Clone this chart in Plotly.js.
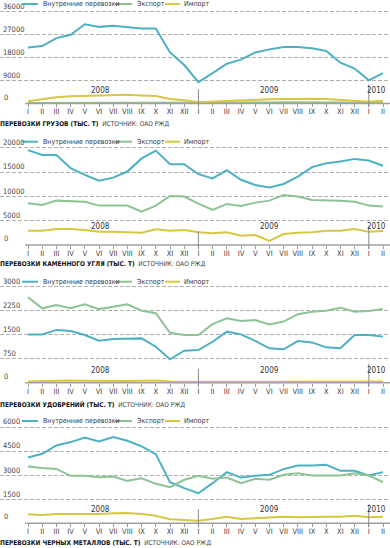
<!DOCTYPE html>
<html><head><meta charset="utf-8">
<script src="https://cdn.plot.ly/plotly-3.0.1.min.js"></script>
<style>html,body{margin:0;padding:0;background:#fff}#chart{width:390px;height:548px}</style>
</head><body><div id="chart"></div>
<script>
// ---- categories ----
const months = ['2008-01','2008-02','2008-03','2008-04','2008-05','2008-06','2008-07','2008-08','2008-09','2008-10','2008-11','2008-12',
                '2009-01','2009-02','2009-03','2009-04','2009-05','2009-06','2009-07','2009-08','2009-09','2009-10','2009-11','2009-12',
                '2010-01','2010-02'];
const monthLabels = ['I','II','III','IV','V','VI','VII','VIII','IX','X','XI','XII',
                     'I','II','III','IV','V','VI','VII','VIII','IX','X','XI','XII',
                     'I','II'];
const yearLabels = ['2008','2009','2010'];
const seriesNames = ['Внутренние перевозки','Экспорт','Импорт'];
const sourceText = 'ИСТОЧНИК: ОАО РЖД';

// ---- panel 1: cargo ----
const cargoTitle = 'ПЕРЕВОЗКИ ГРУЗОВ (ТЫС. Т)';
const cargoTicks = [9000, 18000, 27000, 36000];
const cargoDomestic = [21900,22500,25600,26900,31000,30000,30400,30000,29400,29400,20000,15100,8400,11900,15600,17200,20000,21200,22100,22100,21600,20600,16000,13700,9100,11900];
const cargoExport = [200,250,300,300,300,350,350,350,300,300,250,200,200,250,300,350,400,450,500,550,600,550,400,300,300,350];
const cargoImport = [900,1800,2500,2900,3100,3300,3500,3500,3200,3000,1800,1300,500,800,1100,1300,1500,1700,1800,1900,1900,1800,1400,900,700,1100];

// ---- panel 2: coal ----
const coalTitle = 'ПЕРЕВОЗКИ КАМЕННОГО УГЛЯ (ТЫС. Т)';
const coalTicks = [5000, 10000, 15000, 20000];
const coalDomestic = [19500,18500,18500,15800,14400,13200,13850,15100,17800,19400,16600,16600,14550,13700,15400,13400,12350,11800,12550,14050,16000,16800,17150,17700,17350,16300];
const coalExport = [8580,8230,9120,9050,8900,8100,8100,8100,6860,8100,10080,9950,8500,7200,8440,8030,8710,9120,10290,9950,9260,9260,9120,8900,8100,7890];
const coalImport = [2950,2950,3290,3290,3090,2740,2740,2610,2530,3230,2950,3090,2600,2400,2600,1920,2060,820,2260,2530,2600,2950,2950,3290,2740,2880];

// ---- panel 3: fertilizers ----
const fertTitle = 'ПЕРЕВОЗКИ УДОБРЕНИЙ (ТЫС. Т)';
const fertTicks = [750, 1500, 2250, 3000];
const fertDomestic = [1510,1510,1650,1615,1490,1310,1365,1365,1385,1125,730,1000,1020,1280,1595,1510,1310,1075,1045,1300,1260,1105,1075,1490,1490,1440];
const fertExport = [2670,2325,2430,2325,2450,2300,2375,2450,2250,2170,1560,1490,1490,1830,2010,1930,1960,1820,1910,2140,2220,2250,2345,2220,2240,2300];
const fertImport = [40,50,70,70,60,50,50,50,60,70,40,30,30,30,30,30,30,30,30,30,30,30,30,40,40,40];

// ---- panel 4: ferrous metals ----
const metalTitle = 'ПЕРЕВОЗКИ ЧЕРНЫХ МЕТАЛЛОВ (ТЫС. Т)';
const metalTicks = [1500, 3000, 4500, 6000];
const metalDomestic = [4100,4330,4850,5060,5350,5100,5375,5140,4790,4310,2560,2190,1875,2500,3190,2850,2960,3020,3375,3600,3600,3645,3270,3270,2975,3190];
const metalExport = [3540,3440,3390,2960,2960,2875,2915,2645,2810,2460,2250,2710,2960,2770,2850,2500,2770,2710,3020,3125,2975,2975,2975,3125,2975,2560];
const metalImport = [560,520,580,580,560,580,625,645,580,475,250,210,165,270,415,270,310,375,415,375,415,415,415,475,375,415];

// ---- styling / geometry ----
const W = 390, H = 548;
const FONT = "'Liberation Sans Narrow','DejaVu Sans Condensed','Liberation Sans',Arial,sans-serif";
const COLORS = ['#4cb1c2', '#8dc396', '#d8c742'];

const panels = [
  {title: cargoTitle, ticks: cargoTicks, series: [cargoDomestic, cargoExport, cargoImport], topPx: 7.3, zeroPx: 103.3, legendPx: 4, titlePx: 124, yearOff: 12.6},
  {title: coalTitle, ticks: coalTicks, series: [coalDomestic, coalExport, coalImport], topPx: 147.7, zeroPx: 245, legendPx: 141.7, titlePx: 263.5, yearOff: 19},
  {title: fertTitle, ticks: fertTicks, series: [fertDomestic, fertExport, fertImport], topPx: 286.7, zeroPx: 382.7, legendPx: 281.7, titlePx: 404.8, yearOff: 12.7},
  {title: metalTitle, ticks: metalTicks, series: [metalDomestic, metalExport, metalImport], topPx: 427, zeroPx: 523.3, legendPx: 421, titlePx: 542.5, yearOff: 14}
];

// legend key geometry (px): sample line start/end and text start
const legendLineX0 = [22, 115, 165];
const legendLineX1 = [38, 132, 180];
const legendTextX = [41, 135, 182];

const fy = px => 1 - px / H;
const fx = px => px / W;
const xRange = [-1.972, 25.493];
const yearX = [5.14, 17.04, 24.56];

const traces = [];
const layout = {
  width: W, height: H,
  margin: {l: 0, r: 0, t: 0, b: 0},
  paper_bgcolor: '#fff', plot_bgcolor: '#fff',
  showlegend: false,
  font: {family: FONT, size: 8, color: '#333'},
  annotations: [], shapes: []
};

panels.forEach((p, i) => {
  const s = i === 0 ? '' : String(i + 1);
  const xa = 'x' + s, ya = 'y' + s;
  const topVal = p.ticks[p.ticks.length - 1];
  const upp = topVal / (p.zeroPx - p.topPx);
  const padB = 8, padT = 12;

  p.series.forEach((vals, k) => {
    traces.push({
      type: 'scatter', mode: 'lines', name: seriesNames[k],
      x: months, y: vals, xaxis: xa, yaxis: ya,
      line: {color: COLORS[k], width: 2}, hoverinfo: 'skip'
    });
  });

  layout['xaxis' + s] = {
    type: 'category', domain: [0, 1], range: xRange,
    anchor: 'free', position: fy(p.zeroPx),
    tickmode: 'array', tickvals: months, ticktext: monthLabels,
    ticks: 'outside', ticklen: 3, tickwidth: 1, tickcolor: '#9a9a9a',
    ticklabelstandoff: -2,
    tickfont: {family: FONT, size: 7.5, color: '#444'},
    showgrid: false, zeroline: false, showline: false, fixedrange: true
  };
  layout['yaxis' + s] = {
    domain: [fy(p.zeroPx + padB), fy(p.topPx - padT)],
    range: [-padB * upp, topVal + padT * upp],
    anchor: xa,
    tickmode: 'array', tickvals: p.ticks, tickformat: 'd',
    ticklabelposition: 'inside top', ticks: '',
    tickfont: {family: FONT, size: 7.5, color: '#444'},
    showgrid: true, gridcolor: '#b0b0b0', gridwidth: 1, griddash: '4px,2px',
    zeroline: false, showline: false, fixedrange: true
  };

  // legend keys
  seriesNames.forEach((nm, k) => {
    layout.shapes.push({
      type: 'line', xref: 'paper', yref: 'paper',
      x0: fx(legendLineX0[k]), x1: fx(legendLineX1[k]),
      y0: fy(p.legendPx), y1: fy(p.legendPx),
      line: {color: COLORS[k], width: 2}
    });
    layout.annotations.push({
      xref: 'paper', x: fx(legendTextX[k]), xanchor: 'left',
      yref: 'paper', y: fy(p.legendPx), yanchor: 'middle',
      text: nm, showarrow: false, font: {family: FONT, size: 7, color: '#333'}
    });
  });

  // zero label
  layout.annotations.push({
    xref: 'paper', x: 0, xanchor: 'left', xshift: 2,
    yref: ya, y: 0, yanchor: 'bottom',
    text: '0', showarrow: false, font: {family: FONT, size: 7.5, color: '#444'}
  });
  // year labels
  yearLabels.forEach((yl, j) => {
    layout.annotations.push({
      xref: xa, x: yearX[j], xanchor: 'center',
      yref: 'paper', y: fy(p.zeroPx - p.yearOff), yanchor: 'middle',
      text: yl, showarrow: false, font: {family: FONT, size: 8, color: '#333'}
    });
  });
  // title + source
  layout.annotations.push({
    xref: 'paper', x: 0, xanchor: 'left', xshift: -2,
    yref: 'paper', y: fy(p.titlePx), yanchor: 'middle',
    text: '<b>' + p.title + '</b>  <span style="font-size:6.5px;color:#444">' + sourceText + '</span>',
    showarrow: false, font: {family: FONT, size: 6.5, color: '#111'}
  });

  // solid axis line
  layout.shapes.push({
    type: 'line', xref: xa, yref: ya, x0: -0.2, x1: 25.6, y0: 0, y1: 0,
    line: {color: '#a0a0a0', width: 1.5}
  });
  // year separators
  [[months[12], 14], [months[24], 19]].forEach(([mx, up]) => {
    layout.shapes.push({
      type: 'line', xref: xa, yref: 'paper', x0: mx, x1: mx,
      y0: fy(p.zeroPx + 4), y1: fy(p.zeroPx - up),
      line: {color: '#8a8a8a', width: 1}
    });
  });
});

Plotly.newPlot('chart', traces, layout, {staticPlot: true, displayModeBar: false});
</script>
</body></html>
